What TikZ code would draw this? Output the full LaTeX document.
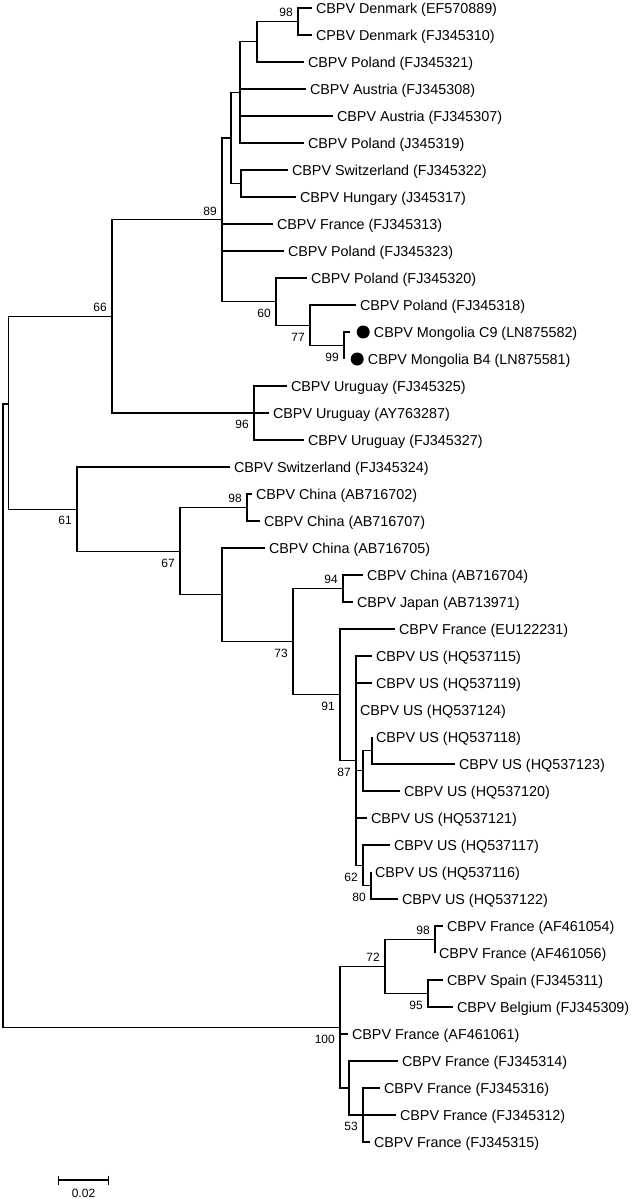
\documentclass[tikz,border=0pt]{standalone}
\usepackage{fontspec}
\setmainfont{Liberation Sans}
\usetikzlibrary{arrows.meta,positioning}

\begin{document}
\begin{tikzpicture}[
  x=1pt, y=-1pt,
  font=\fontsize{14.35}{16}\selectfont,
  branch/.style={line width=1.2pt},
  leaf/.style={
    anchor=west, inner xsep=4pt, inner ysep=0pt, outer sep=0pt,
    text height=10.3pt, text depth=0pt
  },
  boot/.style={
    font=\fontsize{12}{12}\selectfont, inner sep=0pt,
    text height=8.6pt, text depth=0pt
  },
  blob/.style={circle, fill=black, inner sep=0pt, minimum size=13pt}
]
  \useasboundingbox (0,0) rectangle (634,1199);

  % Internal nodes
  \coordinate (root) at (3,715.6);
  \coordinate (nA)   at (8.5,404);
  \coordinate (n66)  at (112,316.4);
  \coordinate (n89)  at (222,219.8);
  \coordinate (n231) at (231,138);
  \coordinate (n240) at (240,92.4);
  \coordinate (n257) at (257,41.75);
  \coordinate (n98a) at (298,21.5);
  \coordinate (n241) at (241,183.5);
  \coordinate (n60)  at (276,301.6);
  \coordinate (n77)  at (310,325.25);
  \coordinate (n99)  at (344,345.5);
  \coordinate (n96)  at (254,413);
  \coordinate (n61)  at (77,509.1);
  \coordinate (n67)  at (180,551.2);
  \coordinate (n98b) at (247,507.5);
  \coordinate (nX)   at (222,594.8);
  \coordinate (n73)  at (293,641.7);
  \coordinate (n94)  at (343,588.5);
  \coordinate (n91)  at (340,694.8);
  \coordinate (n87)  at (356,760.6);
  \coordinate (n120) at (363,770.75);
  \coordinate (n118) at (372,750.5);
  \coordinate (n62)  at (363,865.25);
  \coordinate (n80)  at (371,885.5);
  \coordinate (n100) at (340,1027.3);
  \coordinate (n72)  at (385,966.5);
  \coordinate (n98c) at (435,939.5);
  \coordinate (n95)  at (428,993.5);
  \coordinate (n53a) at (349,1088);
  \coordinate (n53)  at (363,1115);

  % European clade
  \node[leaf] (ef570889) at (312,8)   {CBPV Denmark (EF570889)};
  \node[leaf] (fj345310) at (312,35)  {CPBV Denmark (FJ345310)};
  \node[leaf] (fj345321) at (304,62)  {CBPV Poland (FJ345321)};
  \node[leaf] (fj345308) at (306,89)  {CBPV Austria (FJ345308)};
  \node[leaf] (fj345307) at (333,116) {CBPV Austria (FJ345307)};
  \node[leaf] (j345319)  at (304,143) {CBPV Poland (J345319)};
  \node[leaf] (fj345322) at (288,170) {CBPV Switzerland (FJ345322)};
  \node[leaf] (j345317)  at (296,197) {CBPV Hungary (J345317)};
  \node[leaf] (fj345313) at (273,224) {CBPV France (FJ345313)};
  \node[leaf] (fj345323) at (284,251) {CBPV Poland (FJ345323)};
  \node[leaf] (fj345320) at (307,278) {CBPV Poland (FJ345320)};
  \node[leaf] (fj345318) at (356,305) {CBPV Poland (FJ345318)};

  % Mongolian isolates
  \coordinate (c9) at (350,332);
  \coordinate (b4) at (344,359);
  \node[blob, right=6.5pt of c9] (c9dot) {};
  \node[blob, right=6.5pt of b4] (b4dot) {};
  \node[leaf] (ln875582) at (c9dot.east) {CBPV Mongolia C9 (LN875582)};
  \node[leaf] (ln875581) at (b4dot.east) {CBPV Mongolia B4 (LN875581)};

  \node[leaf] (fj345325) at (287,386) {CBPV Uruguay (FJ345325)};
  \node[leaf] (ay763287) at (269,413) {CBPV Uruguay (AY763287)};
  \node[leaf] (fj345327) at (304,440) {CBPV Uruguay (FJ345327)};

  % Asian / American clade
  \node[leaf] (fj345324) at (230,467) {CBPV Switzerland (FJ345324)};
  \node[leaf] (ab716702) at (252,494) {CBPV China (AB716702)};
  \node[leaf] (ab716707) at (260,521) {CBPV China (AB716707)};
  \node[leaf] (ab716705) at (265,548) {CBPV China (AB716705)};
  \node[leaf] (ab716704) at (363,575) {CBPV China (AB716704)};
  \node[leaf] (ab713971) at (353,602) {CBPV Japan (AB713971)};
  \node[leaf] (eu122231) at (395,629) {CBPV France (EU122231)};
  \node[leaf] (hq537115) at (372,656) {CBPV US (HQ537115)};
  \node[leaf] (hq537119) at (372,683) {CBPV US (HQ537119)};
  \node[leaf] (hq537124) at (356,710) {CBPV US (HQ537124)};
  \node[leaf] (hq537118) at (372,737) {CBPV US (HQ537118)};
  \node[leaf] (hq537123) at (455,764) {CBPV US (HQ537123)};
  \node[leaf] (hq537120) at (400,791) {CBPV US (HQ537120)};
  \node[leaf] (hq537121) at (367,818) {CBPV US (HQ537121)};
  \node[leaf] (hq537117) at (390,845) {CBPV US (HQ537117)};
  \node[leaf] (hq537116) at (371,872) {CBPV US (HQ537116)};
  \node[leaf] (hq537122) at (398,899) {CBPV US (HQ537122)};

  % Western European clade
  \node[leaf] (af461054) at (443,926)  {CBPV France (AF461054)};
  \node[leaf] (af461056) at (435,953)  {CBPV France (AF461056)};
  \node[leaf] (fj345311) at (443,980)  {CBPV Spain (FJ345311)};
  \node[leaf] (fj345309) at (453,1007) {CBPV Belgium (FJ345309)};
  \node[leaf] (af461061) at (348,1034) {CBPV France (AF461061)};
  \node[leaf] (fj345314) at (398,1061) {CBPV France (FJ345314)};
  \node[leaf] (fj345316) at (380,1088) {CBPV France (FJ345316)};
  \node[leaf] (fj345312) at (396,1115) {CBPV France (FJ345312)};
  \node[leaf] (fj345315) at (370,1142) {CBPV France (FJ345315)};

  % Branches
  \draw[branch] (root) |- (nA)  (root) |- (n100);
  \draw[branch] (nA) |- (n66)  (nA) |- (n61);
  \draw[branch] (n66) |- (n89)  (n66) |- (n96);
  \draw[branch] (n89) |- (n231)  (n89) |- (fj345313.west)
                (n89) |- (fj345323.west)  (n89) |- (n60);
  \draw[branch] (n231) |- (n240)  (n231) |- (n241);
  \draw[branch] (n240) |- (n257)  (n240) |- (fj345308.west)
                (n240) |- (fj345307.west)  (n240) |- (j345319.west);
  \draw[branch] (n257) |- (n98a)  (n257) |- (fj345321.west);
  \draw[branch] (n98a) |- (ef570889.west)  (n98a) |- (fj345310.west);
  \draw[branch] (n241) |- (fj345322.west)  (n241) |- (j345317.west);
  \draw[branch] (n60) |- (fj345320.west)  (n60) |- (n77);
  \draw[branch] (n77) |- (fj345318.west)  (n77) |- (n99);
  \draw[branch] (n99) |- (c9)  (n99) |- (b4);
  \draw[branch] (n96) |- (fj345325.west)  (n96) |- (ay763287.west)
                (n96) |- (fj345327.west);
  \draw[branch] (n61) |- (fj345324.west)  (n61) |- (n67);
  \draw[branch] (n67) |- (n98b)  (n67) |- (nX);
  \draw[branch] (n98b) |- (ab716702.west)  (n98b) |- (ab716707.west);
  \draw[branch] (nX) |- (ab716705.west)  (nX) |- (n73);
  \draw[branch] (n73) |- (n94)  (n73) |- (n91);
  \draw[branch] (n94) |- (ab716704.west)  (n94) |- (ab713971.west);
  \draw[branch] (n91) |- (eu122231.west)  (n91) |- (n87);
  \draw[branch] (n87) |- (hq537115.west)  (n87) |- (hq537119.west)
                (n87) |- (hq537124.west)  (n87) |- (n120)
                (n87) |- (hq537121.west)  (n87) |- (n62);
  \draw[branch] (n120) |- (n118)  (n120) |- (hq537120.west);
  \draw[branch] (n118) |- (hq537118.west)  (n118) |- (hq537123.west);
  \draw[branch] (n62) |- (hq537117.west)  (n62) |- (n80);
  \draw[branch] (n80) |- (hq537116.west)  (n80) |- (hq537122.west);
  \draw[branch] (n100) |- (n72)  (n100) |- (af461061.west)
                (n100) |- (n53a);
  \draw[branch] (n72) |- (n98c)  (n72) |- (n95);
  \draw[branch] (n98c) |- (af461054.west)  (n98c) |- (af461056.west);
  \draw[branch] (n95) |- (fj345311.west)  (n95) |- (fj345309.west);
  \draw[branch] (n53a) |- (fj345314.west)  (n53a) |- (n53);
  \draw[branch] (n53) |- (fj345316.west)  (n53) |- (fj345312.west)
                (n53) |- (fj345315.west);

  % Bootstrap values
  \node[boot, above left=4.5pt and 5pt of n98a] (b98a) {98};
  \node[boot, above left=4.5pt and 5pt of n89]  (b89)  {89};
  \node[boot, above left=4.5pt and 5pt of n66]  (b66)  {66};
  \node[boot, above left=4.5pt and 5pt of n98b] (b98b) {98};
  \node[boot, above left=4.5pt and 5pt of n94]  (b94)  {94};
  \node[boot, above left=4.5pt and 5pt of n72]  (b72)  {72};
  \node[boot, above left=4.5pt and 5pt of n98c] (b98c) {98};
  \node[boot, below left=7pt and 5pt of n60]  (b60)  {60};
  \node[boot, below left=7pt and 5pt of n77]  (b77)  {77};
  \node[boot, below left=7pt and 5pt of n99]  (b99)  {99};
  \node[boot, below left=7pt and 5pt of n96]  (b96)  {96};
  \node[boot, below left=7pt and 5pt of n61]  (b61)  {61};
  \node[boot, below left=7pt and 5pt of n67]  (b67)  {67};
  \node[boot, below left=7pt and 5pt of n73]  (b73)  {73};
  \node[boot, below left=7pt and 5pt of n91]  (b91)  {91};
  \node[boot, below left=7pt and 5pt of n87]  (b87)  {87};
  \node[boot, below left=7pt and 5pt of n62]  (b62)  {62};
  \node[boot, below left=7pt and 5pt of n80]  (b80)  {80};
  \node[boot, below left=7pt and 5pt of n95]  (b95)  {95};
  \node[boot, below left=7pt and 5pt of n100] (b100) {100};
  \node[boot, below left=7pt and 5pt of n53]  (b53)  {53};

  % Scale bar
  \coordinate (sb0) at (58,1180);
  \coordinate (sb1) at (109,1180);
  \draw[branch, {Bar[width=9pt]}-{Bar[width=9pt]}] (sb0) -- (sb1);
  \node[boot, anchor=north] (sblabel) at (83.5,1188.5) {0.02};
\end{tikzpicture}
\end{document}
